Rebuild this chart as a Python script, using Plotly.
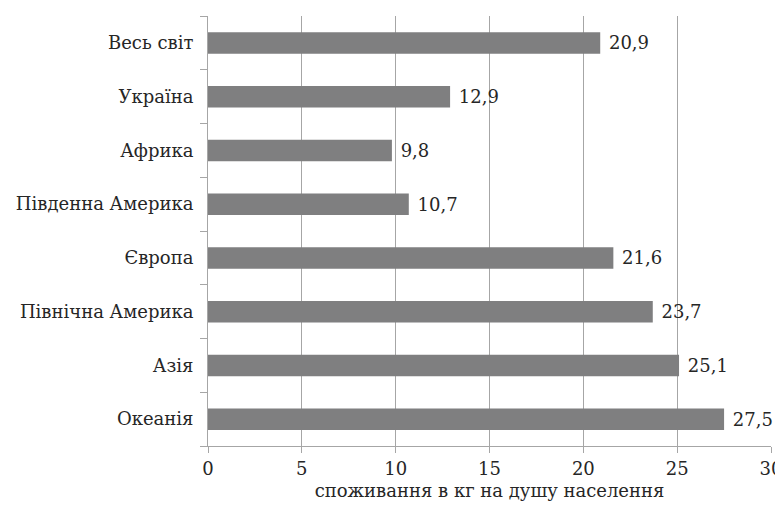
import plotly.graph_objects as go

categories = ["Океанія", "Азія", "Північна Америка", "Європа",
              "Південна Америка", "Африка", "Україна", "Весь світ"]
values = [27.5, 25.1, 23.7, 21.6, 10.7, 9.8, 12.9, 20.9]
labels = [" " + f"{v:.1f}".replace(".", ",") for v in values]
x_ticks = [0, 5, 10, 15, 20, 25, 30]

axis_color = "#a6a6a6"
text_color = "#262626"
font_family = "DejaVu Serif"

fig = go.Figure(go.Bar(
    y=categories, x=values, orientation="h",
    marker=dict(color="#7f7f80", line=dict(width=0)),
    text=labels, textposition="outside",
    textfont=dict(size=18, color=text_color, family=font_family),
    cliponaxis=False, width=0.4,
))

fig.update_layout(
    width=775, height=498,
    margin=dict(l=200, r=12, t=8, b=60, autoexpand=False),
    paper_bgcolor="white", plot_bgcolor="white",
    font=dict(family=font_family, size=18, color=text_color),
    showlegend=False,
    xaxis=dict(range=[0, 30], tickvals=x_ticks, showgrid=True,
               gridcolor=axis_color, gridwidth=1, zeroline=False,
               showline=True, linecolor=axis_color, linewidth=1,
               ticks="outside", ticklen=6, tickcolor=axis_color,
               tickfont=dict(size=18, family=font_family, color=text_color),
               title=dict(text="споживання в кг на душу населення",
                          font=dict(size=18, family=font_family, color=text_color),
                          standoff=6)),
    yaxis=dict(type="category", categoryorder="array",
               categoryarray=categories, showline=True,
               linecolor=axis_color, linewidth=1, ticks="outside",
               tickson="boundaries", ticklen=7, tickcolor=axis_color,
               showgrid=False,
               tickfont=dict(size=18, family=font_family, color=text_color),
               ticklabelstandoff=10),
)

fig.write_html("out.html")
